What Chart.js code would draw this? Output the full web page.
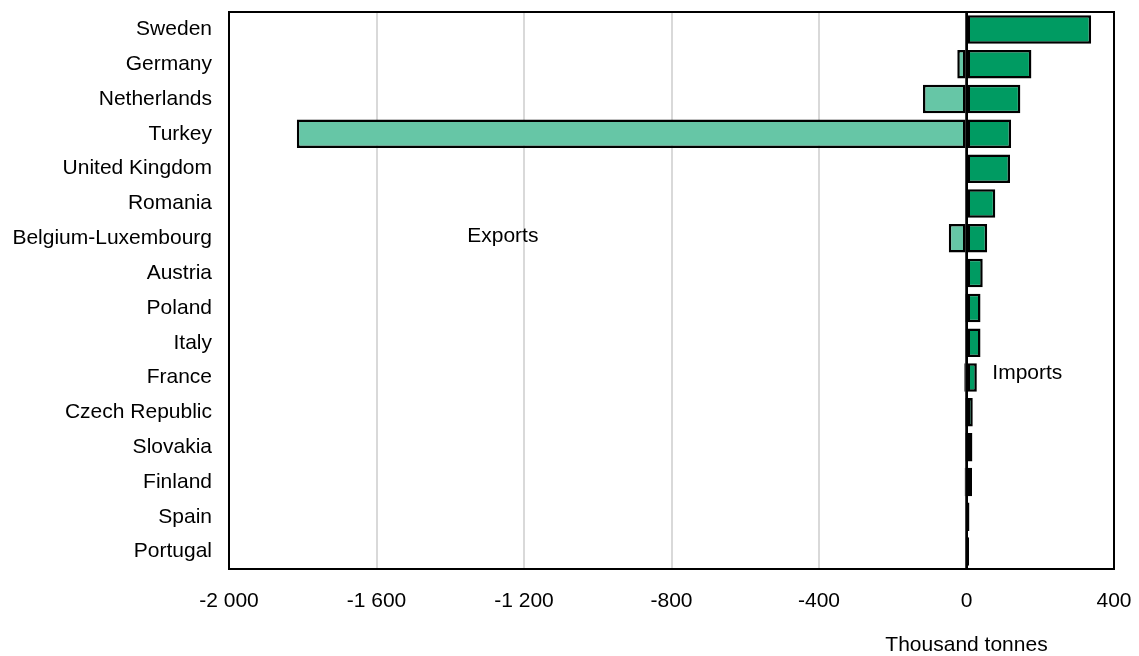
<!DOCTYPE html>
<html lang="en">
<head>
    <meta charset="UTF-8">
    <title>Exports and imports</title>
    <style>
        body {
            margin: 0;
            padding: 0;
            background-color: #ffffff;
            overflow: hidden;
        }
        #wrap {
            width: 1139px;
            height: 656px;
            position: relative;
        }
    </style>
    <script src="https://cdn.jsdelivr.net/npm/chart.js"></script>
</head>
<body>
    <div id="wrap">
        <canvas id="tradeChart"></canvas>
    </div>

    <script>
        // Data (thousand tonnes)
        const countries = ['Sweden', 'Germany', 'Netherlands', 'Turkey', 'United Kingdom', 'Romania',
            'Belgium-Luxembourg', 'Austria', 'Poland', 'Italy', 'France', 'Czech Republic',
            'Slovakia', 'Finland', 'Spain', 'Portugal'];
        const exportsData = [0, -25, -118, -1816, 0, 0, -48, -2, -1, -2, -6, -1, -1, -5, -3, -2];
        const importsData = [338, 176, 146, 121, 118, 78, 56, 44, 38, 38, 28, 17, 16, 15, 8, 7];
        const xTicks = [-2000, -1600, -1200, -800, -400, 0, 400];

        const FONT = "'Liberation Sans', Arial, sans-serif";

        function fmt(v) {
            const s = String(Math.abs(v));
            const withSpace = s.length > 3 ? s.slice(0, s.length - 3) + ' ' + s.slice(-3) : s;
            return (v < 0 ? '-' : '') + withSpace;
        }

        // Frame round the plot and the in-chart text labels
        const extras = {
            id: 'extras',
            afterDatasetsDraw(chart) {
                const ctx = chart.ctx;
                const a = chart.chartArea;
                const x = chart.scales.x;
                const y = chart.scales.y;
                ctx.save();
                ctx.strokeStyle = '#000';
                ctx.lineWidth = 2;
                ctx.strokeRect(a.left, a.top, a.right - a.left, a.bottom - a.top);

                // zero line over the bars, as in the original
                const x0 = x.getPixelForValue(0);
                ctx.lineWidth = 2.5;
                ctx.beginPath();
                ctx.moveTo(x0, a.top);
                ctx.lineTo(x0, a.bottom);
                ctx.stroke();

                ctx.fillStyle = '#000';
                ctx.font = '21px ' + FONT;
                ctx.textBaseline = 'middle';
                ctx.textAlign = 'left';
                ctx.fillText('Exports', x.getPixelForValue(-1354), y.getPixelForValue(6) - 2);
                ctx.fillText('Imports', x.getPixelForValue(70), y.getPixelForValue(10) - 4);

                ctx.textAlign = 'center';
                ctx.fillText('Thousand tonnes', x0, 645);
                ctx.restore();
            }
        };

        new Chart(document.getElementById('tradeChart'), {
            type: 'bar',
            data: {
                labels: countries,
                datasets: [{
                    label: 'Exports',
                    data: exportsData,
                    backgroundColor: '#66c6a6',
                    borderColor: '#000000',
                    borderWidth: 2.5,
                    borderSkipped: false,
                    categoryPercentage: 1,
                    barPercentage: 0.82
                }, {
                    label: 'Imports',
                    data: importsData,
                    backgroundColor: '#009b62',
                    borderColor: '#000000',
                    borderWidth: 2.5,
                    borderSkipped: false,
                    categoryPercentage: 1,
                    barPercentage: 0.82
                }]
            },
            options: {
                indexAxis: 'y',
                responsive: true,
                maintainAspectRatio: false,
                animation: false,
                layout: {
                    padding: { top: 12, right: 25, left: 0, bottom: 0 }
                },
                scales: {
                    x: {
                        stacked: true,
                        min: -2000,
                        max: 400,
                        afterBuildTicks(scale) {
                            scale.ticks = xTicks.map(v => ({ value: v }));
                        },
                        afterFit(scale) {
                            scale.height = 87;
                            scale.paddingLeft = 0;
                            scale.paddingRight = 0;
                        },
                        ticks: {
                            callback: v => fmt(v),
                            color: '#000',
                            padding: 20,
                            maxRotation: 0,
                            font: { size: 21, family: FONT }
                        },
                        grid: {
                            drawTicks: false,
                            color: ctx => (ctx.tick && ctx.tick.value === 0) ? '#000000' : '#d9d9d9',
                            lineWidth: 2
                        },
                        border: { display: true, color: '#000', width: 2 }
                    },
                    y: {
                        stacked: true,
                        afterFit(scale) {
                            scale.width = 229;
                            scale.paddingTop = 0;
                            scale.paddingBottom = 0;
                        },
                        ticks: {
                            color: '#000',
                            padding: 17,
                            autoSkip: false,
                            font: { size: 21, family: FONT }
                        },
                        grid: { display: false, drawTicks: false },
                        border: { display: true, color: '#000', width: 2 }
                    }
                },
                plugins: {
                    legend: { display: false },
                    tooltip: { enabled: false }
                }
            },
            plugins: [extras]
        });
    </script>
</body>
</html>
